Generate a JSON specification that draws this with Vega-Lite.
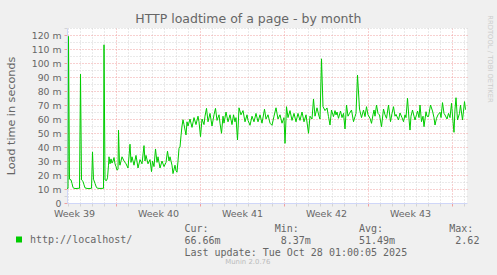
{
"$schema": "https://vega.github.io/schema/vega-lite/v6.json",
"width": 400, "height": 175,
"autosize": {"type": "none"},
"padding": {"left": 67, "top": 28, "right": 30, "bottom": 72},
"background": "#F0F0F0",
"view": {"fill": "#FFFFFF", "stroke": null},
"title": {"text": "Munin 2.0.76", "orient": "bottom", "anchor": "middle", "dx": -19.2, "offset": 2, "baseline": "top", "font": "DejaVu Sans", "fontSize": 6.9, "fontWeight": "normal", "color": "#BBBBBB"},
"data": {"values": [
{"t":"2025-09-24T22:00Z","v":10.5},{"t":"2025-09-25T00:00Z","v":10.5},{"t":"2025-09-25T01:00Z","v":119},{"t":"2025-09-25T03:00Z","v":17},{"t":"2025-09-25T06:00Z","v":16.5},{"t":"2025-09-25T08:00Z","v":14},{"t":"2025-09-25T10:00Z","v":11},{"t":"2025-09-25T12:00Z","v":10.5},{"t":"2025-09-25T16:00Z","v":10.3},{"t":"2025-09-25T20:00Z","v":10.5},{"t":"2025-09-25T23:00Z","v":10.5},
{"t":"2025-09-26T01:00Z","v":92},{"t":"2025-09-26T03:00Z","v":16.5},{"t":"2025-09-26T06:00Z","v":15.5},{"t":"2025-09-26T08:00Z","v":13},{"t":"2025-09-26T10:00Z","v":10.8},{"t":"2025-09-26T14:00Z","v":10.4},{"t":"2025-09-26T18:00Z","v":10.3},{"t":"2025-09-26T23:00Z","v":10.5},
{"t":"2025-09-27T01:00Z","v":36.5},{"t":"2025-09-27T03:00Z","v":17},{"t":"2025-09-27T06:00Z","v":14},{"t":"2025-09-27T09:00Z","v":11},{"t":"2025-09-27T12:00Z","v":10.5},{"t":"2025-09-27T16:00Z","v":10.4},{"t":"2025-09-27T23:00Z","v":10.5},
{"t":"2025-09-28T00:00Z","v":113},{"t":"2025-09-28T02:00Z","v":16.5},{"t":"2025-09-28T05:00Z","v":16},{"t":"2025-09-28T07:00Z","v":18},{"t":"2025-09-28T09:00Z","v":27},{"t":"2025-09-28T10:00Z","v":33},{"t":"2025-09-28T12:00Z","v":28},{"t":"2025-09-28T14:00Z","v":31.5},{"t":"2025-09-28T16:00Z","v":28.5},{"t":"2025-09-28T18:00Z","v":30},{"t":"2025-09-28T20:00Z","v":32.5},{"t":"2025-09-28T22:00Z","v":28},
{"t":"2025-09-29T00:00Z","v":26},{"t":"2025-09-29T02:00Z","v":23.5},{"t":"2025-09-29T04:00Z","v":24},{"t":"2025-09-29T05:00Z","v":52},{"t":"2025-09-29T07:00Z","v":28},{"t":"2025-09-29T08:00Z","v":27},{"t":"2025-09-29T12:00Z","v":33},{"t":"2025-09-29T16:00Z","v":30},{"t":"2025-09-29T20:00Z","v":28},
{"t":"2025-09-30T00:00Z","v":25},{"t":"2025-09-30T04:00Z","v":42},{"t":"2025-09-30T06:00Z","v":29},{"t":"2025-09-30T08:00Z","v":33},{"t":"2025-09-30T12:00Z","v":27},{"t":"2025-09-30T16:00Z","v":34},{"t":"2025-09-30T20:00Z","v":25},
{"t":"2025-10-01T00:00Z","v":31},{"t":"2025-10-01T04:00Z","v":28},{"t":"2025-10-01T08:00Z","v":41},{"t":"2025-10-01T10:00Z","v":30},{"t":"2025-10-01T12:00Z","v":34},{"t":"2025-10-01T16:00Z","v":28},{"t":"2025-10-01T20:00Z","v":31},{"t":"2025-10-01T23:00Z","v":22.4},
{"t":"2025-10-02T01:00Z","v":30},{"t":"2025-10-02T04:00Z","v":26},{"t":"2025-10-02T07:00Z","v":38.6},{"t":"2025-10-02T10:00Z","v":29},{"t":"2025-10-02T12:00Z","v":33},{"t":"2025-10-02T16:00Z","v":25},{"t":"2025-10-02T20:00Z","v":30},
{"t":"2025-10-03T00:00Z","v":26},{"t":"2025-10-03T04:00Z","v":29},{"t":"2025-10-03T07:00Z","v":37},{"t":"2025-10-03T10:00Z","v":30},{"t":"2025-10-03T12:00Z","v":33},{"t":"2025-10-03T16:00Z","v":27},{"t":"2025-10-03T18:00Z","v":21},{"t":"2025-10-03T22:00Z","v":27},
{"t":"2025-10-04T00:00Z","v":23},{"t":"2025-10-04T02:00Z","v":22},{"t":"2025-10-04T04:00Z","v":30},{"t":"2025-10-04T06:00Z","v":39},{"t":"2025-10-04T08:00Z","v":40},{"t":"2025-10-04T10:00Z","v":48},{"t":"2025-10-04T12:00Z","v":55},{"t":"2025-10-04T14:00Z","v":59.5},{"t":"2025-10-04T16:00Z","v":56},{"t":"2025-10-04T20:00Z","v":48.6},{"t":"2025-10-04T22:00Z","v":58},
{"t":"2025-10-05T00:00Z","v":55},{"t":"2025-10-05T04:00Z","v":60},{"t":"2025-10-05T08:00Z","v":54},{"t":"2025-10-05T12:00Z","v":61},{"t":"2025-10-05T16:00Z","v":56},{"t":"2025-10-05T20:00Z","v":62},{"t":"2025-10-05T22:00Z","v":58},
{"t":"2025-10-06T01:00Z","v":47.4},{"t":"2025-10-06T04:00Z","v":60},{"t":"2025-10-06T08:00Z","v":56},{"t":"2025-10-06T10:00Z","v":62},{"t":"2025-10-06T13:00Z","v":67.6},{"t":"2025-10-06T16:00Z","v":58},{"t":"2025-10-06T20:00Z","v":64},
{"t":"2025-10-07T00:00Z","v":55},{"t":"2025-10-07T04:00Z","v":63},{"t":"2025-10-07T07:00Z","v":67.6},{"t":"2025-10-07T10:00Z","v":59},{"t":"2025-10-07T14:00Z","v":63},{"t":"2025-10-07T16:00Z","v":57},{"t":"2025-10-07T19:00Z","v":49.8},{"t":"2025-10-07T22:00Z","v":62},
{"t":"2025-10-08T00:00Z","v":57},{"t":"2025-10-08T04:00Z","v":65},{"t":"2025-10-08T08:00Z","v":58},{"t":"2025-10-08T12:00Z","v":63},{"t":"2025-10-08T16:00Z","v":56},{"t":"2025-10-08T19:00Z","v":63},{"t":"2025-10-08T22:00Z","v":58},
{"t":"2025-10-09T00:00Z","v":61},{"t":"2025-10-09T03:00Z","v":45},{"t":"2025-10-09T06:00Z","v":68},{"t":"2025-10-09T10:00Z","v":63},{"t":"2025-10-09T14:00Z","v":66},{"t":"2025-10-09T18:00Z","v":58},{"t":"2025-10-09T22:00Z","v":63},
{"t":"2025-10-10T00:00Z","v":59},{"t":"2025-10-10T04:00Z","v":55.5},{"t":"2025-10-10T08:00Z","v":62},{"t":"2025-10-10T12:00Z","v":58},{"t":"2025-10-10T16:00Z","v":64},{"t":"2025-10-10T20:00Z","v":58},
{"t":"2025-10-11T00:00Z","v":63},{"t":"2025-10-11T04:00Z","v":57},{"t":"2025-10-11T09:00Z","v":67},{"t":"2025-10-11T12:00Z","v":60},{"t":"2025-10-11T16:00Z","v":63},{"t":"2025-10-11T20:00Z","v":57},
{"t":"2025-10-12T00:00Z","v":55.5},{"t":"2025-10-12T04:00Z","v":62},{"t":"2025-10-12T08:00Z","v":68},{"t":"2025-10-12T12:00Z","v":60},{"t":"2025-10-12T16:00Z","v":63},{"t":"2025-10-12T20:00Z","v":57},
{"t":"2025-10-13T00:00Z","v":61},{"t":"2025-10-13T02:00Z","v":42.6},{"t":"2025-10-13T05:00Z","v":68.8},{"t":"2025-10-13T08:00Z","v":61},{"t":"2025-10-13T12:00Z","v":66},{"t":"2025-10-13T16:00Z","v":59},{"t":"2025-10-13T20:00Z","v":64},
{"t":"2025-10-14T00:00Z","v":58},{"t":"2025-10-14T04:00Z","v":64},{"t":"2025-10-14T08:00Z","v":59},{"t":"2025-10-14T12:00Z","v":65},{"t":"2025-10-14T16:00Z","v":58},{"t":"2025-10-14T20:00Z","v":63},
{"t":"2025-10-15T01:00Z","v":49.8},{"t":"2025-10-15T04:00Z","v":62},{"t":"2025-10-15T08:00Z","v":60},{"t":"2025-10-15T11:00Z","v":74.3},{"t":"2025-10-15T14:00Z","v":62},{"t":"2025-10-15T18:00Z","v":68},{"t":"2025-10-15T22:00Z","v":62},
{"t":"2025-10-16T00:00Z","v":60},{"t":"2025-10-16T03:00Z","v":103},{"t":"2025-10-16T06:00Z","v":68.8},{"t":"2025-10-16T10:00Z","v":66},{"t":"2025-10-16T14:00Z","v":67.9},{"t":"2025-10-16T17:00Z","v":61.7},{"t":"2025-10-16T20:00Z","v":55.7},{"t":"2025-10-16T23:00Z","v":66.4},
{"t":"2025-10-17T03:00Z","v":61.7},{"t":"2025-10-17T06:00Z","v":66},{"t":"2025-10-17T08:00Z","v":62.9},{"t":"2025-10-17T10:00Z","v":65},{"t":"2025-10-17T13:00Z","v":60.5},{"t":"2025-10-17T17:00Z","v":65.7},{"t":"2025-10-17T20:00Z","v":61},{"t":"2025-10-17T23:00Z","v":64},
{"t":"2025-10-18T02:00Z","v":52.9},{"t":"2025-10-18T05:00Z","v":70},{"t":"2025-10-18T08:00Z","v":62},{"t":"2025-10-18T11:00Z","v":64},{"t":"2025-10-18T15:00Z","v":66.4},{"t":"2025-10-18T19:00Z","v":58.1},{"t":"2025-10-18T22:00Z","v":61.7},
{"t":"2025-10-19T00:00Z","v":64},{"t":"2025-10-19T03:00Z","v":91.4},{"t":"2025-10-19T07:00Z","v":67.1},{"t":"2025-10-19T11:00Z","v":61},{"t":"2025-10-19T15:00Z","v":66.4},{"t":"2025-10-19T18:00Z","v":61.7},{"t":"2025-10-19T21:00Z","v":68.8},
{"t":"2025-10-20T00:00Z","v":63},{"t":"2025-10-20T04:00Z","v":60.5},{"t":"2025-10-20T07:00Z","v":56.9},{"t":"2025-10-20T10:00Z","v":63},{"t":"2025-10-20T12:00Z","v":66.4},{"t":"2025-10-20T14:00Z","v":62},{"t":"2025-10-20T17:00Z","v":70},{"t":"2025-10-20T20:00Z","v":64},{"t":"2025-10-20T23:00Z","v":62.9},
{"t":"2025-10-21T03:00Z","v":54.5},{"t":"2025-10-21T07:00Z","v":67.1},{"t":"2025-10-21T10:00Z","v":63},{"t":"2025-10-21T13:00Z","v":60.5},{"t":"2025-10-21T17:00Z","v":70},{"t":"2025-10-21T21:00Z","v":58.1},
{"t":"2025-10-22T00:00Z","v":64},{"t":"2025-10-22T03:00Z","v":68.8},{"t":"2025-10-22T06:00Z","v":62},{"t":"2025-10-22T08:00Z","v":63.3},{"t":"2025-10-22T13:00Z","v":59.3},{"t":"2025-10-22T16:00Z","v":64.3},{"t":"2025-10-22T20:00Z","v":61},{"t":"2025-10-22T23:00Z","v":58.1},
{"t":"2025-10-23T02:00Z","v":63},{"t":"2025-10-23T04:00Z","v":61},{"t":"2025-10-23T07:00Z","v":74.8},{"t":"2025-10-23T10:00Z","v":60},{"t":"2025-10-23T12:00Z","v":52.1},{"t":"2025-10-23T14:00Z","v":62},{"t":"2025-10-23T17:00Z","v":66.4},{"t":"2025-10-23T20:00Z","v":62},{"t":"2025-10-23T22:00Z","v":59.3},
{"t":"2025-10-24T01:00Z","v":63},{"t":"2025-10-24T03:00Z","v":65.7},{"t":"2025-10-24T06:00Z","v":61},{"t":"2025-10-24T08:00Z","v":70},{"t":"2025-10-24T11:00Z","v":58.1},{"t":"2025-10-24T14:00Z","v":62},{"t":"2025-10-24T16:00Z","v":54.5},{"t":"2025-10-24T20:00Z","v":65.2},{"t":"2025-10-24T22:00Z","v":62},
{"t":"2025-10-25T01:00Z","v":61.7},{"t":"2025-10-25T05:00Z","v":70},{"t":"2025-10-25T09:00Z","v":65.7},{"t":"2025-10-25T12:00Z","v":61},{"t":"2025-10-25T14:00Z","v":55.7},{"t":"2025-10-25T17:00Z","v":60.5},{"t":"2025-10-25T20:00Z","v":63},
{"t":"2025-10-26T00:00Z","v":64.8},{"t":"2025-10-26T02:00Z","v":61},{"t":"2025-10-26T05:00Z","v":71.7},{"t":"2025-10-26T08:00Z","v":64},{"t":"2025-10-26T10:00Z","v":62.9},{"t":"2025-10-26T14:00Z","v":60},{"t":"2025-10-26T17:00Z","v":64},{"t":"2025-10-26T20:00Z","v":61},{"t":"2025-10-26T23:00Z","v":71.2},
{"t":"2025-10-27T02:00Z","v":58.1},{"t":"2025-10-27T04:00Z","v":50.5},{"t":"2025-10-27T06:00Z","v":67.1},{"t":"2025-10-27T08:00Z","v":75.2},{"t":"2025-10-27T11:00Z","v":59.3},{"t":"2025-10-27T15:00Z","v":64},{"t":"2025-10-27T17:00Z","v":70},{"t":"2025-10-27T21:00Z","v":59.3},
{"t":"2025-10-28T01:00Z","v":72.4},{"t":"2025-10-28T03:00Z","v":66.66}
]},
"layer": [
{
"mark": {"type": "line", "strokeWidth": 1, "interpolate": "linear"},
"encoding": {
"x": {"field": "t", "type": "temporal",
 "scale": {"type": "utc", "domain": [{"year": 2025, "month": 9, "date": 24, "hours": 22, "utc": true}, {"year": 2025, "month": 10, "date": 28, "hours": 6, "utc": true}]},
 "axis": {"orient": "bottom", "tickCount": {"interval": "day", "step": 1}, "labels": false, "grid": true,
  "gridColor": {"condition": {"test": "utcday(datum.value) == 1", "value": "#F0A0A0"}, "value": "#D4D4D4"},
  "gridDash": [1, 2],
  "tickColor": {"condition": {"test": "utcday(datum.value) == 1", "value": "#F0A0A0"}, "value": "#D4D4D4"},
  "tickSize": 3, "domainColor": "#CFD6F8",
  "title": "HTTP loadtime of a page - by month", "titleFontSize": 12.5, "titleX": 180.8, "titleY": -181, "titleAlign": "center", "titleBaseline": "alphabetic", "titleAngle": 0}},
"y": {"field": "v", "type": "quantitative",
 "scale": {"domain": [0, 125], "nice": false},
 "axis": {"orient": "left", "values": [0,5,10,15,20,25,30,35,40,45,50,55,60,65,70,75,80,85,90,95,100,105,110,115,120,125],
  "labelExpr": "datum.value % 10 != 0 ? '' : (datum.value == 0 ? '0' : datum.value + ' m')",
  "labelFontSize": 9.3, "labelPadding": 3, "labelOverlap": false, "labelFlush": false, "labelBound": false,
  "tickSize": 3,
  "gridColor": {"condition": {"test": "datum.value % 10 == 0", "value": "#F0A0A0"}, "value": "#D4D4D4"},
  "gridOpacity": {"condition": {"test": "datum.value == 0", "value": 0}, "value": 1},
  "gridDash": [1, 2],
  "tickColor": {"condition": {"test": "datum.value % 10 == 0", "value": "#F0A0A0"}, "value": "#D4D4D4"},
  "domainColor": "#CFD6F8",
  "title": "Load time in seconds", "titleFontSize": 11.2, "titleX": -56, "titleY": 87.5, "titleAngle": -90, "titleAlign": "center", "titleBaseline": "middle"}},
"color": {"datum": "http://localhost/", "type": "nominal", "scale": {"range": ["#00CC00"]},
 "legend": {"orient": "none", "legendX": -53, "legendY": 206.5, "title": null, "padding": 0,
  "symbolType": "square", "symbolSize": 36, "symbolStrokeWidth": 0, "symbolFillColor": "#00CC00",
  "labelFont": "DejaVu Sans Mono", "labelFontSize": 10, "labelColor": "#666666", "labelOffset": 6,
  "encode": {"symbols": {"update": {"fill": {"value": "#00CC00"}, "strokeWidth": {"value": 0}}}}}}
}
},
{
"mark": {"type": "line", "opacity": 0},
"encoding": {
"x": {"field": "t", "type": "temporal",
 "scale": {"type": "utc", "domain": [{"year": 2025, "month": 9, "date": 24, "hours": 22, "utc": true}, {"year": 2025, "month": 10, "date": 28, "hours": 6, "utc": true}]},
 "axis": {"orient": "bottom",
  "values": [{"year": 2025, "month": 9, "date": 25, "hours": 12, "utc": true}, {"year": 2025, "month": 10, "date": 2, "hours": 12, "utc": true}, {"year": 2025, "month": 10, "date": 9, "hours": 12, "utc": true}, {"year": 2025, "month": 10, "date": 16, "hours": 12, "utc": true}, {"year": 2025, "month": 10, "date": 23, "hours": 12, "utc": true}],
  "labelExpr": "'Week ' + utcFormat(datum.value, '%V')",
  "labelFontSize": 9.5, "labelBaseline": "alphabetic", "labelPadding": 13, "labelFlush": false, "labelOverlap": false, "labelBound": false,
  "ticks": false, "tickSize": 0, "domain": false, "grid": false,
  "title": ["Cur:\u00a0\u00a0\u00a0\u00a0\u00a0\u00a0\u00a0\u00a0\u00a0\u00a0\u00a0Min:\u00a0\u00a0\u00a0\u00a0\u00a0\u00a0\u00a0\u00a0\u00a0\u00a0Avg:\u00a0\u00a0\u00a0\u00a0\u00a0\u00a0\u00a0\u00a0\u00a0\u00a0\u00a0Max:",
            "66.66m\u00a0\u00a0\u00a0\u00a0\u00a0\u00a0\u00a0\u00a0\u00a0\u00a08.37m\u00a0\u00a0\u00a0\u00a0\u00a0\u00a0\u00a0\u00a051.49m\u00a0\u00a0\u00a0\u00a0\u00a0\u00a0\u00a0\u00a0\u00a0\u00a02.62",
            "\u00a0\u00a0\u00a0\u00a0\u00a0\u00a0\u00a0\u00a0\u00a0\u00a0\u00a0\u00a0\u00a0Last update: Tue Oct 28 01:00:05 2025"],
  "titleFont": "DejaVu Sans Mono", "titleFontSize": 10, "titleX": 116.9, "titleY": 28.9, "titleAlign": "left", "titleBaseline": "alphabetic", "titleLineHeight": 11.7, "titleAngle": 0}},
"y": {"field": "v", "type": "quantitative",
 "scale": {"domain": [0, 125], "nice": false},
 "axis": {"orient": "right", "labels": false, "ticks": false, "domain": false, "grid": false,
  "title": "RRDTOOL / TOBI OETIKER", "titleFontSize": 6.8, "titleColor": "#CCCCCC", "titleX": 22, "titleY": 30.5, "titleAngle": 90, "titleAlign": "center", "titleBaseline": "middle"}}
}
}
],
"resolve": {"axis": {"x": "independent", "y": "independent"}},
"config": {"axis": {"labelFont": "DejaVu Sans", "titleFont": "DejaVu Sans", "labelColor": "#666666", "titleColor": "#666666", "titleFontWeight": "normal"}}
}
